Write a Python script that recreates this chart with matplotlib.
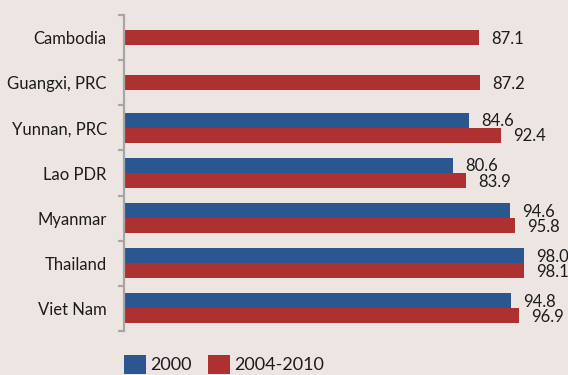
import numpy as np
import matplotlib
matplotlib.use("Agg")
import matplotlib.pyplot as plt
from matplotlib.patches import Patch
from matplotlib.transforms import offset_copy

plt.rcParams['font.family'] = ['Lato', 'DejaVu Sans']

categories = ["Cambodia", "Guangxi, PRC", "Yunnan, PRC", "Lao PDR",
              "Myanmar", "Thailand", "Viet Nam"]
series_2000 = [None, None, 84.6, 80.6, 94.6, 98.0, 94.8]
series_2004_2010 = [87.1, 87.2, 92.4, 83.9, 95.8, 98.1, 96.9]
series_names = ["2000", "2004-2010"]

BLUE = "#2b5791"
RED = "#ae3132"
BG = "#ede5e2"
TEXT = "#1c1c1c"
AXIS_GREY = "#a6a6a6"

fig = plt.figure(figsize=(5.68, 3.75), dpi=100, facecolor=BG)
ax = fig.add_axes([124 / 568, 44 / 375, 408 / 568, 316 / 375], facecolor=BG)

bar_h = 1 / 3
y = np.arange(len(categories))

# value labels sit a fixed distance past each bar end
lbl_tf = offset_copy(ax.transData, fig=fig, x=12 * 72 / 100,
                     y=-1 * 72 / 100, units="points")


def value_label(v, yy):
    ax.text(v, yy, f"{v:.1f}", ha="left", va="center", fontsize=12,
            color=TEXT, transform=lbl_tf, clip_on=False)


for i, (v0, v1) in enumerate(zip(series_2000, series_2004_2010)):
    if v0 is None:
        # only the later period is available: single centred bar
        ax.barh(y[i], v1, height=bar_h, color=RED)
        value_label(v1, y[i])
    else:
        ax.barh(y[i] - bar_h / 2, v0, height=bar_h, color=BLUE)
        ax.barh(y[i] + bar_h / 2, v1, height=bar_h, color=RED)
        value_label(v0, y[i] - bar_h / 2)
        value_label(v1, y[i] + bar_h / 2)

ax.set_xlim(0, 100)
ax.set_ylim(len(categories) - 0.5, -0.5)

for s in ["top", "right", "bottom"]:
    ax.spines[s].set_visible(False)
ax.spines["left"].set_color(AXIS_GREY)
ax.spines["left"].set_linewidth(1.6)
ax.set_xticks([])

ax.set_yticks(y)
ax.set_yticklabels(categories, fontsize=12, color=TEXT)
ax.tick_params(axis="y", which="major", length=0, pad=12.5)
ax.set_yticks(np.arange(-0.5, len(categories)), minor=True)
ax.tick_params(axis="y", which="minor", length=4.5, width=1.6,
               color=AXIS_GREY, direction="out")

handles = [Patch(facecolor=BLUE, edgecolor="none"),
           Patch(facecolor=RED, edgecolor="none")]
fig.legend(handles, series_names, loc="upper left",
           bbox_to_anchor=(124 / 568, 1 - 355 / 375), frameon=False,
           ncol=2, fontsize=13, handlelength=1.2, handleheight=1.2,
           handletextpad=0.25, columnspacing=0.9, borderpad=0,
           borderaxespad=0, labelcolor=TEXT)

fig.savefig("out.png", dpi=100, facecolor=BG)
